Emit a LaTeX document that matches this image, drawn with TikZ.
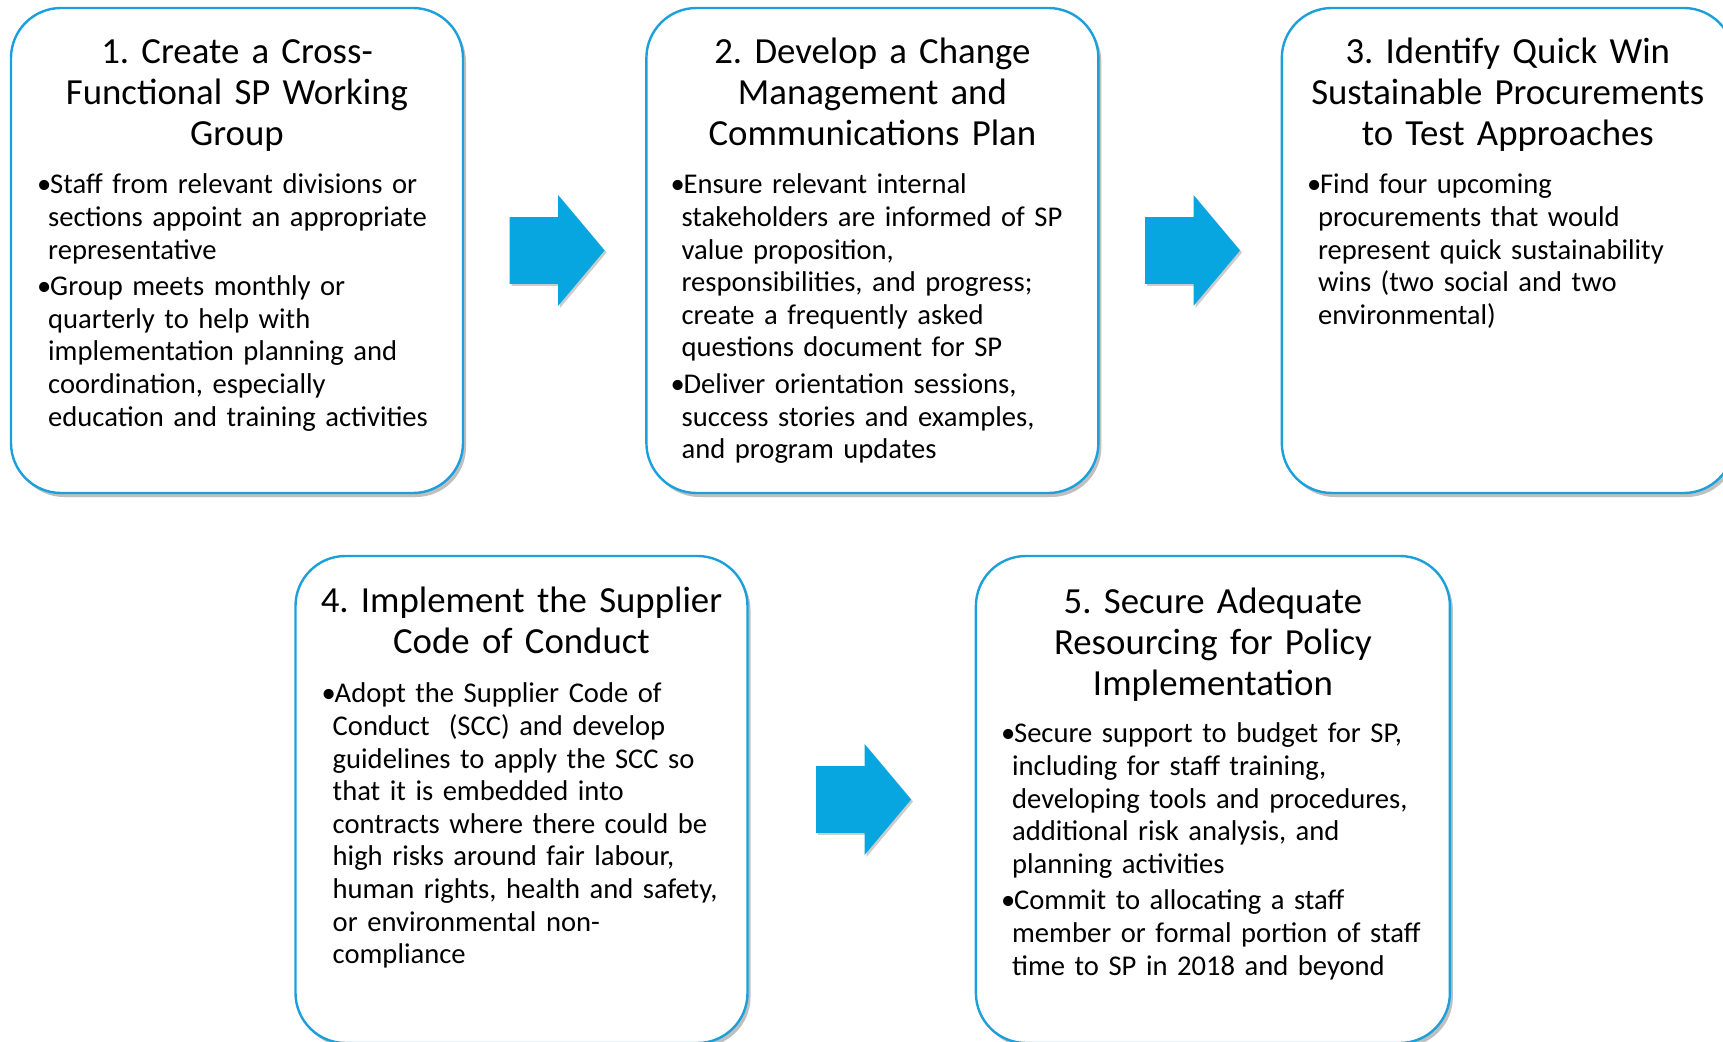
\documentclass[tikz,border=0pt]{standalone}
\usepackage{fontspec}
\setmainfont{Carlito}
\usetikzlibrary{positioning,shapes.arrows,shadows}

\definecolor{stepblue}{RGB}{28,160,220}
\definecolor{arrowblue}{RGB}{8,166,225}

\newlength{\bulw}
\setlength{\bulw}{6.5pt}
\newlength{\bulhang}
\setlength{\bulhang}{5.5pt}
\newcommand{\bpoint}[1]{{\let\\\newline
  \hangindent=\bulhang\hangafter=1\makebox[\bulw][l]{\textbullet}#1\par}}
\newcommand{\bgap}{\vspace{2pt}}
\frenchspacing

\tikzset{
  stepbox/.style={draw=stepblue, line width=1.2pt, fill=white, rounded corners=25pt,
    minimum width=226pt, minimum height=242.5pt,
    drop shadow={shadow xshift=1.5pt, shadow yshift=-2pt, opacity=0.25, fill=black}},
  steptitle/.style={anchor=base, text width=222pt, align=center, inner sep=0pt,
    font=\fontsize{18.4}{20.35}\selectfont},
  stepbody/.style={anchor=base west, text width=212pt, inner sep=0pt,
    font=\fontsize{14.3}{16.3}\selectfont\raggedright},
  blockarrow/.style={single arrow, fill=arrowblue, draw=none,
    inner xsep=0pt, inner ysep=16.5pt,
    minimum height=47.5pt, single arrow head extend=11pt,
    single arrow tip angle=100, single arrow head indent=0pt,
    drop shadow={shadow xshift=1pt, shadow yshift=-1pt, opacity=0.2, fill=black}},
}

\begin{document}
\begin{tikzpicture}[x=1pt, y=1pt]
  \clip (0,0) rectangle (861.5,520.5);
  \fill[white] (0,0) rectangle (861.5,520.5);

  % top row
  \node[stepbox] (b1) at (118.5,395.25) {};
  \node[stepbox, right=90.5pt of b1] (b2) {};
  \node[stepbox, right=90.5pt of b2] (b3) {};

  % bottom row
  \node[stepbox, minimum height=243.5pt] (b4) at (260.75,120.75) {};
  \node[stepbox, minimum height=243.5pt, minimum width=237pt, right=113pt of b4] (b5) {};

  % arrows
  \node[blockarrow, right=22.5pt of b1] (a12) {};
  \node[blockarrow, right=22.5pt of b2] (a23) {};
  \node[blockarrow, right=33.5pt of b4] (a45) {};

  % titles
  \node[steptitle] (t1) at ([yshift=-28.5pt]b1.north)
    {1. Create a Cross-\\Functional SP Working\\Group};
  \node[steptitle] (t2) at ([yshift=-28.5pt]b2.north)
    {2. Develop a Change\\Management and\\Communications Plan};
  \node[steptitle] (t3) at ([yshift=-28.5pt]b3.north)
    {3. Identify Quick Win\\Sustainable Procurements\\to Test Approaches};
  \node[steptitle] (t4) at ([yshift=-29pt]b4.north)
    {4. Implement the Supplier\\Code of Conduct};
  \node[steptitle] (t5) at ([yshift=-29.5pt]b5.north)
    {5. Secure Adequate\\Resourcing for Policy\\Implementation};

  % bullet text
  \node[stepbody] (d1) at ([xshift=13.5pt, yshift=-93.5pt]b1.north west) {%
    \bpoint{Staff from relevant divisions or\\sections appoint an appropriate\\representative}\bgap
    \bpoint{Group meets monthly or\\quarterly to help with\\implementation planning and\\coordination, especially\\education and training activities}};
  \node[stepbody] (d2) at ([xshift=12.5pt, yshift=-93.5pt]b2.north west) {%
    \bpoint{Ensure relevant internal\\stakeholders are informed of SP\\value proposition,\\responsibilities, and progress;\\create a frequently asked\\questions document for SP}\bgap
    \bpoint{Deliver orientation sessions,\\success stories and examples,\\and program updates}};
  \node[stepbody] (d3) at ([xshift=13pt, yshift=-93.5pt]b3.north west) {%
    \bpoint{Find four upcoming\\procurements that would\\represent quick sustainability\\wins (two social and two\\environmental)}};
  \node[stepbody] (d4) at ([xshift=13.5pt, yshift=-74pt]b4.north west) {%
    \bpoint{Adopt the Supplier Code of\\Conduct\ \ (SCC) and develop\\guidelines to apply the SCC so\\that it is embedded into\\contracts where there could be\\high risks around fair labour,\\human rights, health and safety,\\or environmental non-\\compliance}};
  \node[stepbody, text width=222pt] (d5) at ([xshift=13pt, yshift=-94pt]b5.north west) {%
    \bpoint{Secure support to budget for SP,\\including for staff training,\\developing tools and procedures,\\additional risk analysis, and\\planning activities}\bgap
    \bpoint{Commit to allocating a staff\\member or formal portion of staff\\time to SP in 2018 and beyond}};
\end{tikzpicture}
\end{document}
